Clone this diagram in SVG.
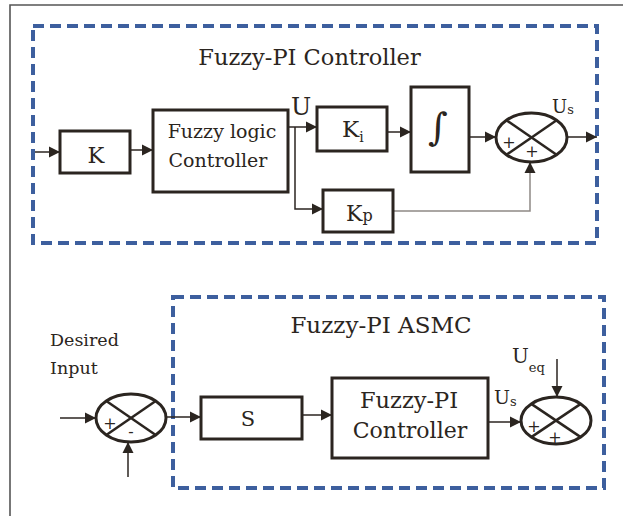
<svg xmlns="http://www.w3.org/2000/svg" width="623" height="516" viewBox="0 0 623 516">
<style>
.t{font-family:"DejaVu Serif","Liberation Serif",serif;fill:#2b2520}
.box{fill:#fff;stroke:#2b2520;stroke-width:3}
.sum{fill:#fff;stroke:#2b2520;stroke-width:3}
.x{stroke:#2b2520;stroke-width:2.5}
.ln{fill:none;stroke:#2b2520;stroke-width:1.5}
.gl{fill:none;stroke:#8f8985;stroke-width:1.5}
.dash{fill:none;stroke:#3d5f9e;stroke-width:4;stroke-dasharray:11 6}
.pm{font-family:"DejaVu Serif","Liberation Serif",serif;fill:#2b2520;font-size:16px;text-anchor:middle}
</style>
<defs>
<marker id="ah" markerUnits="userSpaceOnUse" markerWidth="12" markerHeight="12" refX="11" refY="6" orient="auto">
<path d="M0,0.5 L11,6 L0,11.5 z" fill="#2b2520"/>
</marker>
</defs>
<rect width="623" height="516" fill="#fff"/>
<g id="frame">
<path d="M10,516 V5 H623" fill="none" stroke="#555" stroke-width="1.6"/>
</g>
<g id="fuzzy-pi-controller-group">
<rect class="dash" x="33" y="26" width="564" height="217"/>
<text class="t" x="309.5" y="65" font-size="22.5" text-anchor="middle">Fuzzy-PI Controller</text>
</g>
<g id="fuzzy-pi-asmc-group">
<rect class="dash" x="173" y="297" width="431" height="191"/>
<text class="t" x="381" y="333" font-size="23" text-anchor="middle">Fuzzy-PI ASMC</text>
</g>
<g id="connectors">
<line class="ln" x1="35" y1="152" x2="60" y2="152" marker-end="url(#ah)"/>
<line class="ln" x1="130" y1="150" x2="153" y2="150" marker-end="url(#ah)"/>
<line class="ln" x1="288" y1="127" x2="317" y2="127" marker-end="url(#ah)"/>
<polyline class="ln" points="295,127 295,209 323,209" marker-end="url(#ah)"/>
<line class="ln" x1="387" y1="132" x2="411" y2="132" marker-end="url(#ah)"/>
<line class="ln" x1="469" y1="137" x2="496" y2="137" marker-end="url(#ah)"/>
<line class="ln" x1="567" y1="137" x2="597" y2="137" marker-end="url(#ah)"/>
<polyline class="gl" points="393,211 530,211 530,170"/>
<line class="ln" x1="530" y1="172" x2="530" y2="162" marker-end="url(#ah)"/>
<line class="ln" x1="60" y1="418" x2="96" y2="418" marker-end="url(#ah)"/>
<line class="ln" x1="128" y1="477" x2="128" y2="442" marker-end="url(#ah)"/>
<line class="ln" x1="166" y1="417" x2="201" y2="417" marker-end="url(#ah)"/>
<line class="ln" x1="302" y1="415" x2="332" y2="415" marker-end="url(#ah)"/>
<line class="ln" x1="488" y1="422" x2="521" y2="422" marker-end="url(#ah)"/>
<line class="ln" x1="557" y1="359" x2="557" y2="397" marker-end="url(#ah)"/>
</g>
<g id="K">
<rect class="box" x="60" y="131" width="70" height="42"/>
<text class="t" x="96" y="163" font-size="22.5" text-anchor="middle">K</text>
</g>
<g id="fuzzy-logic-controller">
<rect class="box" x="153" y="110" width="135" height="82"/>
<text class="t" x="222" y="138" font-size="19" text-anchor="middle">Fuzzy logic</text>
<text class="t" x="218" y="167" font-size="19" text-anchor="middle">Controller</text>
</g>
<g id="U-label">
<text class="t" x="291" y="115" font-size="24">U</text>
</g>
<g id="Ki">
<rect class="box" x="317" y="107" width="70" height="44"/>
<text class="t" x="342" y="137" font-size="23">K<tspan font-size="14" dy="5">i</tspan></text>
</g>
<g id="integrator">
<rect class="box" x="411" y="87" width="58" height="85"/>
<text class="t" x="438" y="140" font-size="38" text-anchor="middle">∫</text>
</g>
<g id="sum1">
<ellipse class="sum" cx="531.5" cy="137.5" rx="35.5" ry="24.5"/>
<line class="x" x1="506.4" y1="120.2" x2="556.6" y2="154.8"/>
<line class="x" x1="506.4" y1="154.8" x2="556.6" y2="120.2"/>
<text class="pm" x="509" y="148">+</text>
<text class="pm" x="532" y="157">+</text>
<text class="t" x="552" y="113" font-size="18">U<tspan font-size="13" dy="1">s</tspan></text>
</g>
<g id="Kp">
<rect class="box" x="323" y="190" width="70" height="42"/>
<text class="t" x="346" y="221" font-size="22">K<tspan font-size="16">p</tspan></text>
</g>
<g id="input-sum">
<text class="t" x="50" y="346" font-size="17.5">Desired</text>
<text class="t" x="50" y="374" font-size="17.5">Input</text>
<ellipse class="sum" cx="131" cy="418" rx="35" ry="24"/>
<line class="x" x1="106.3" y1="401" x2="155.7" y2="435"/>
<line class="x" x1="106.3" y1="435" x2="155.7" y2="401"/>
<text class="pm" x="110" y="429">+</text>
<text class="pm" x="131" y="437">-</text>
</g>
<g id="S">
<rect class="box" x="201" y="397" width="101" height="42"/>
<text class="t" x="248" y="426" font-size="21" text-anchor="middle">S</text>
</g>
<g id="fuzzy-pi-controller">
<rect class="box" x="332" y="378" width="156" height="80"/>
<text class="t" x="409" y="408" font-size="22.5" text-anchor="middle">Fuzzy-PI</text>
<text class="t" x="410" y="438" font-size="22" text-anchor="middle">Controller</text>
</g>
<g id="sum2">
<text class="t" x="494" y="404" font-size="19">U<tspan font-size="13" dy="2">s</tspan></text>
<text class="t" x="512" y="363" font-size="20">U<tspan font-size="13" dy="9">eq</tspan></text>
<ellipse class="sum" cx="556" cy="420.5" rx="35" ry="23.5"/>
<line class="x" x1="531.3" y1="403.9" x2="580.7" y2="437.1"/>
<line class="x" x1="531.3" y1="437.1" x2="580.7" y2="403.9"/>
<text class="pm" x="534" y="432">+</text>
<text class="pm" x="555" y="443">+</text>
</g>
</svg>
